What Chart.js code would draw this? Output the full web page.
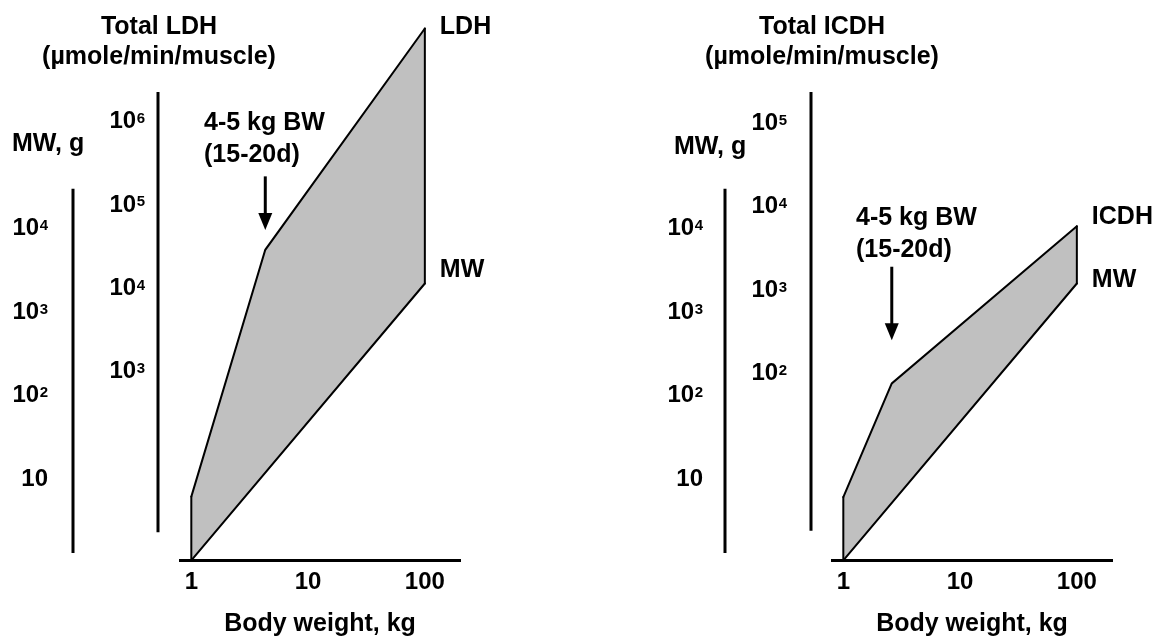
<!DOCTYPE html>
<html>
<head>
<meta charset="utf-8">
<script src="https://cdn.jsdelivr.net/npm/chart.js@4.4.1/dist/chart.umd.min.js"></script>
<style>
    html, body { margin: 0; padding: 0; background: #fff; }
    #wrap { position: relative; width: 1153px; height: 638px; overflow: hidden; }
    canvas { position: absolute; top: 0; }
    #ldh_chart { left: 0; }
    #icdh_chart { left: 652px; }
</style>
</head>
<body>
<div id="wrap">
    <canvas id="ldh_chart" width="501" height="638"></canvas>
    <canvas id="icdh_chart" width="501" height="638"></canvas>
</div>
<script>
// body weight, kg (log axis)
var x_ticks = [1, 10, 100];
var x_tick_labels = ['1', '10', '100'];

// muscle weight axis, g
var mw_ticks = [10, 100, 1000, 10000];
var mw_tick_labels = ['10', '10^2', '10^3', '10^4'];

// enzyme axes, umole/min/muscle
var ldh_ticks = [1e3, 1e4, 1e5, 1e6];
var ldh_tick_labels = ['10^3', '10^4', '10^5', '10^6'];
var icdh_ticks = [1e2, 1e3, 1e4, 1e5];
var icdh_tick_labels = ['10^2', '10^3', '10^4', '10^5'];

// muscle weight vs body weight (lower edge of both bands)
var mw_bw = [1, 100];
var mw_values = [1.06, 2200];

// total LDH vs body weight
var ldh_bw = [1, 4.3, 100];
var ldh_values = [32, 29000, 1.3e7];

// total ICDH vs body weight
var icdh_bw = [1, 2.6, 100];
var icdh_values = [3.3, 76, 5800];

// drawn extent of the vertical axis bars (axis units)
var mw_axis_range = [1.3, 3e4];
var ldh_axis_range = [12, 2.25e6];
var icdh_axis_range = [1.3, 2.35e5];

var FONT = '"Liberation Sans", Arial, Helvetica, sans-serif';
var DECADES = 6.59;   // same decade height on every vertical scale

Chart.defaults.color = '#000';

function toPoints(xs, ys) {
    var pts = [];
    for (var i = 0; i < xs.length; i++) {
        pts.push({ x: xs[i], y: ys[i] });
    }
    return pts;
}

function drawPower(ctx, label, right, y) {
    var parts = label.split('^');
    var x = right;
    ctx.textAlign = 'right';
    if (parts[1]) {
        ctx.font = 'bold 15px ' + FONT;
        ctx.textBaseline = 'alphabetic';
        ctx.fillText(parts[1], right, y + 1.5);
        x = right - ctx.measureText(parts[1]).width - 0.5;
    }
    ctx.font = 'bold 24px ' + FONT;
    ctx.textBaseline = 'middle';
    ctx.fillText(parts[0], x, y);
}

function line(ctx, x1, y1, x2, y2) {
    ctx.beginPath();
    ctx.moveTo(x1, y1);
    ctx.lineTo(x2, y2);
    ctx.stroke();
}

function buildPanel(canvasId, p) {
    var decor = {
        id: 'decor_' + canvasId,
        afterDraw: function (chart) {
            var ctx = chart.ctx;
            var mw = chart.scales.mw;
            var enz = chart.scales.enz;
            var lower = chart.getDatasetMeta(0).data;
            var upper = chart.getDatasetMeta(1).data;
            ctx.save();
            ctx.strokeStyle = '#000';
            ctx.fillStyle = '#000';

            // closing edges of the band
            ctx.lineWidth = 2;
            ctx.lineCap = 'round';
            line(ctx, lower[0].x, lower[0].y, upper[0].x, upper[0].y);
            line(ctx, upper[upper.length - 1].x, upper[upper.length - 1].y,
                lower[lower.length - 1].x, lower[lower.length - 1].y);

            // vertical axis bars
            ctx.lineWidth = 3;
            ctx.lineCap = 'butt';
            line(ctx, p.mwLineX, mw.getPixelForValue(mw_axis_range[0]),
                p.mwLineX, mw.getPixelForValue(mw_axis_range[1]));
            line(ctx, p.enzLineX, enz.getPixelForValue(p.axisRange[0]),
                p.enzLineX, enz.getPixelForValue(p.axisRange[1]));

            // tick labels
            for (var i = 0; i < mw_ticks.length; i++) {
                drawPower(ctx, mw_tick_labels[i], p.mwLabelRight, mw.getPixelForValue(mw_ticks[i]));
            }
            for (var j = 0; j < p.ticks.length; j++) {
                drawPower(ctx, p.tickLabels[j], p.enzLabelRight, enz.getPixelForValue(p.ticks[j]));
            }

            // titles and notes
            ctx.font = 'bold 25px ' + FONT;
            ctx.textBaseline = 'middle';
            ctx.textAlign = 'center';
            ctx.fillText(p.title, p.titleX, 27);
            ctx.fillText('(\u00b5mole/min/muscle)', p.titleX, 57);
            ctx.textAlign = 'left';
            ctx.fillText('MW, g', p.mwTitleX, p.mwTitleY);
            ctx.fillText('4-5 kg BW', 204, p.noteY);
            ctx.fillText('(15-20d)', 204, p.noteY + 32);

            var endU = upper[upper.length - 1];
            var endL = lower[lower.length - 1];
            ctx.fillText(p.name, endU.x + 15, endU.y + p.nameDy);
            ctx.fillText('MW', endL.x + 15, endL.y + p.mwDy);

            // arrow to the break in the curve
            var ax = chart.scales.x.getPixelForValue(p.bw[1]);
            var yTop = enz.getPixelForValue(p.arrow[0]);
            var yTip = enz.getPixelForValue(p.arrow[1]);
            ctx.lineWidth = 3;
            line(ctx, ax, yTop, ax, yTip - 12);
            ctx.beginPath();
            ctx.moveTo(ax - 7, yTip - 17);
            ctx.lineTo(ax + 7, yTip - 17);
            ctx.lineTo(ax, yTip);
            ctx.closePath();
            ctx.fill();
            ctx.restore();
        }
    };

    var el = document.getElementById(canvasId);
    return new Chart(el, {
        type: 'line',
        data: {
            datasets: [{
                label: 'MW',
                data: toPoints(mw_bw, mw_values),
                yAxisID: 'mw',
                borderColor: '#000',
                borderWidth: 2,
                borderCapStyle: 'round',
                pointRadius: 0,
                tension: 0,
                fill: false
            }, {
                label: p.name,
                data: toPoints(p.bw, p.values),
                yAxisID: 'enz',
                borderColor: '#000',
                borderWidth: 2,
                borderCapStyle: 'round',
                backgroundColor: '#c0c0c0',
                pointRadius: 0,
                tension: 0,
                fill: 0
            }]
        },
        options: {
            responsive: false,
            animation: false,
            devicePixelRatio: 1,
            layout: { padding: { left: 180, right: 41, top: 10, bottom: 0 } },
            plugins: {
                legend: { display: false },
                tooltip: { enabled: false },
                title: { display: false }
            },
            scales: {
                x: {
                    type: 'logarithmic',
                    position: 'bottom',
                    min: 0.8,
                    max: 200,
                    afterBuildTicks: function (scale) {
                        scale.ticks = x_ticks.map(function (v) { return { value: v }; });
                    },
                    afterFit: function (scale) { scale.height = 78; },
                    grid: { display: false, drawTicks: false },
                    border: { display: true, color: '#000', width: 3 },
                    ticks: {
                        autoSkip: false,
                        maxRotation: 0,
                        padding: 8,
                        color: '#000',
                        font: { family: FONT, size: 24, weight: 'bold' },
                        callback: function (value, index) { return x_tick_labels[index]; }
                    },
                    title: {
                        display: true,
                        text: 'Body weight, kg',
                        color: '#000',
                        font: { family: FONT, size: 25, weight: 'bold', lineHeight: 1 },
                        padding: { top: 0, bottom: 1 }
                    }
                },
                mw: {
                    type: 'logarithmic',
                    axis: 'y',
                    position: 'left',
                    display: false,
                    min: 1.07,
                    max: 1.07 * Math.pow(10, DECADES)
                },
                enz: {
                    type: 'logarithmic',
                    axis: 'y',
                    position: 'left',
                    display: false,
                    min: p.enzMin,
                    max: p.enzMin * Math.pow(10, DECADES)
                }
            }
        },
        plugins: [decor]
    });
}

buildPanel('ldh_chart', {
    name: 'LDH', title: 'Total LDH',
    bw: ldh_bw, values: ldh_values,
    ticks: ldh_ticks, tickLabels: ldh_tick_labels, axisRange: ldh_axis_range,
    enzMin: 5.57, arrow: [2.2e5, 5e4],
    titleX: 159, mwTitleX: 12, mwTitleY: 144,
    mwLineX: 73, mwLabelRight: 48, enzLineX: 158, enzLabelRight: 145,
    noteY: 123, nameDy: -1.5, mwDy: -13.5
});

buildPanel('icdh_chart', {
    name: 'ICDH', title: 'Total ICDH',
    bw: icdh_bw, values: icdh_values,
    ticks: icdh_ticks, tickLabels: icdh_tick_labels, axisRange: icdh_axis_range,
    enzMin: 0.582, arrow: [1900, 250],
    titleX: 170, mwTitleX: 22, mwTitleY: 147,
    mwLineX: 73, mwLabelRight: 51, enzLineX: 159, enzLabelRight: 135,
    noteY: 218, nameDy: -9, mwDy: -3.5
});
</script>
</body>
</html>
